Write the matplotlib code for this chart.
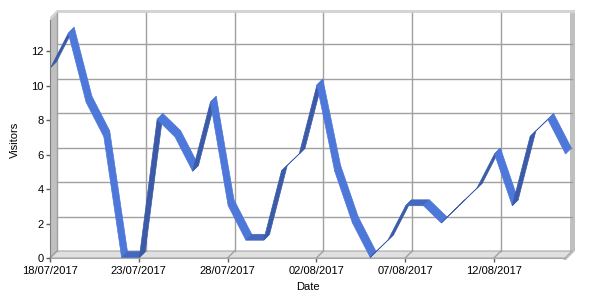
import matplotlib
matplotlib.use("Agg")
import matplotlib.pyplot as plt
import matplotlib.dates as mdates
from matplotlib.patches import Polygon, Rectangle
import pandas as pd
import numpy as np

plt.rcParams['font.family'] = ['Liberation Sans', 'DejaVu Sans']

start_date = "2017-07-18"
visitors = [11, 13, 9, 7, 0, 0, 8, 7, 5, 9, 3, 1, 1, 5, 6, 10, 5, 2, 0, 1,
            3, 3, 2, 3, 4, 6, 3, 7, 8, 6]
y_ticks = [0, 2, 4, 6, 8, 10, 12]
y_max = 13.8

dates = pd.date_range(start_date, periods=len(visitors), freq="D")
xs = mdates.date2num(dates.to_pydatetime())
tick_dates = xs[::5]

W, H = 600, 300
fig = plt.figure(figsize=(6, 3), dpi=100)
L, R, B, T = 50, 565, 258, 20
ax = fig.add_axes([L / W, 1 - B / H, (R - L) / W, (B - T) / H])
ax.set_xlim(xs[0], xs[-1])
ax.set_ylim(0, y_max)

depth_px = 7
ox = depth_px / (R - L)
oy = depth_px / (B - T)
grid_c = '#a0a0a0'

# walls
ax.add_patch(Rectangle((ox, oy), 1, 1, transform=ax.transAxes, fc='white',
                       ec='none', zorder=0.2, clip_on=False))
# top thickness strip
ax.add_patch(Polygon([(0, 1), (ox, 1 + oy), (1 + ox + 3 / (R - L), 1 + oy),
                      (1 + ox + 3 / (R - L), 1 + oy + 3 / (B - T)),
                      (ox, 1 + oy + 3 / (B - T)), (0, 1 + 3 / (B - T))],
                     transform=ax.transAxes, fc='#d4d4d4', ec='none',
                     zorder=0.3, clip_on=False))
# right strip
ax.add_patch(Polygon([(1 + ox - 2 / (R - L), oy), (1 + ox - 2 / (R - L), 1 + oy),
                      (1 + ox + 3 / (R - L), 1 + oy), (1 + ox + 3 / (R - L), oy),
                      (1 + 3 / (R - L) - 2 / (R - L), -2 / (B - T)), (1 - 2 / (R - L), -2 / (B - T))],
                     transform=ax.transAxes, fc='#c0c0c0', ec='none',
                     zorder=0.3, clip_on=False))
# left wall
ax.add_patch(Polygon([(0, 0), (0, 1), (ox, 1 + oy), (ox, oy)],
                     transform=ax.transAxes, fc='#c0c0c0', ec='none',
                     zorder=0.4, clip_on=False))
# floor
ax.add_patch(Polygon([(0, 0), (1, 0), (1 + ox, oy), (ox, oy)],
                     transform=ax.transAxes, fc='#e0e0e0', ec='#a8a8a8', lw=0.8,
                     zorder=0.4, clip_on=False))

# gridlines on back wall
for v in y_ticks[1:]:
    fy = v / y_max + oy
    ax.plot([ox, 1 + ox], [fy, fy], transform=ax.transAxes, color=grid_c,
            lw=1, zorder=0.5, clip_on=False)
for t in tick_dates:
    fx = (t - xs[0]) / (xs[-1] - xs[0])
    ax.plot([fx + ox, fx + ox], [oy, 1 + oy], transform=ax.transAxes,
            color=grid_c, lw=1, zorder=0.5, clip_on=False)
    ax.plot([fx, fx + ox], [0, oy], transform=ax.transAxes,
            color=grid_c, lw=1, zorder=0.5, clip_on=False)

# ribbon
ddx = ox * (xs[-1] - xs[0])
ddy = oy * y_max
f0, f1 = 0.08, 0.92
light = '#4d77d9'
dark = '#3b5ba8'
flat = '#4468c0'
vals = np.array(visitors, dtype=float)
for i in range(len(xs) - 1):
    xa, xb = xs[i], xs[i + 1]
    ya, yb = vals[i], vals[i + 1]
    poly = [(xa + f0 * ddx, ya + f0 * ddy), (xb + f0 * ddx, yb + f0 * ddy),
            (xb + f1 * ddx, yb + f1 * ddy), (xa + f1 * ddx, ya + f1 * ddy)]
    if yb > ya:
        c = dark
    elif yb < ya:
        c = light
    else:
        c = flat
    ax.add_patch(Polygon(poly, closed=True, fc=c, ec=c, lw=0.5, zorder=2,
                         clip_on=False))

# axes styling
for s in ['top', 'right']:
    ax.spines[s].set_visible(False)
ax.spines['left'].set_color('#808080')
ax.spines['bottom'].set_color('#a8a8a8')
ax.spines['left'].set_zorder(3)
ax.patch.set_visible(False)
ax.set_yticks(y_ticks)
ax.set_xticks(tick_dates)
ax.xaxis.set_major_formatter(mdates.DateFormatter('%d/%m/%Y'))
ax.tick_params(axis='both', labelsize=8, colors='#606060', labelcolor='black',
               length=3, width=1, pad=1.5)
ax.tick_params(axis='x', pad=3)
ax.set_xlabel('Date', fontsize=8)
ax.set_ylabel('Visitors', fontsize=8)
ax.xaxis.set_label_coords((308 - L) / (R - L), (B - 282) / (B - T))
ax.yaxis.set_label_coords((20 - L) / (R - L), (B - 140) / (B - T))

fig.savefig('out.png', dpi=100)
